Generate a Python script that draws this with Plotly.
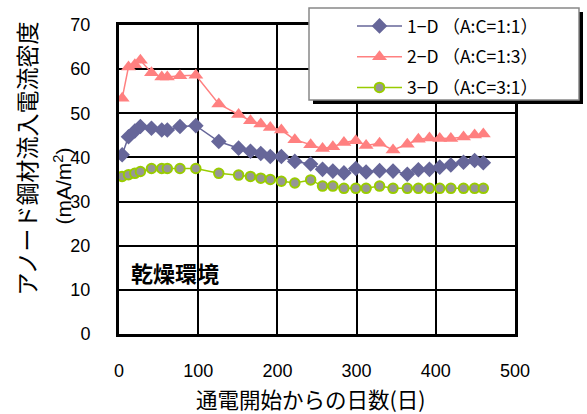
import plotly.graph_objects as go

days = [4, 12, 20, 27, 41, 54, 61, 77, 97, 126, 151, 166, 179, 191, 205, 222,
        242, 257, 270, 284, 299, 312, 329, 346, 364, 378, 392, 405, 419, 435, 449, 460]

s1_name = "1−D （A:C=1:1）"
s1 = [40.6, 44.7, 46.0, 47.0, 46.6, 46.2, 46.2, 47.0, 47.2, 43.6, 42.1, 41.4, 40.9, 40.2, 40.2, 39.1,
      38.5, 37.3, 36.9, 36.5, 37.5, 36.7, 37.0, 36.9, 36.2, 37.2, 37.3, 37.8, 38.3, 38.9, 39.3, 38.8]

s2_name = "2−D （A:C=1:3）"
s2 = [53.4, 60.5, 61.0, 62.0, 59.2, 58.2, 58.2, 58.5, 58.6, 52.1, 49.7, 48.3, 47.6, 46.8, 46.2, 44.0,
      42.9, 42.0, 42.4, 43.4, 43.8, 42.7, 43.2, 41.7, 43.0, 44.1, 44.4, 44.3, 44.3, 44.6, 45.1, 45.3]

s3_name = "3−D （A:C=3:1）"
s3 = [35.7, 36.1, 36.4, 36.8, 37.5, 37.5, 37.5, 37.5, 37.5, 36.4, 36.0, 35.7, 35.3, 35.0, 34.6, 34.2,
      34.9, 33.5, 33.5, 33.0, 33.0, 33.0, 33.5, 33.0, 33.0, 33.0, 33.0, 33.0, 33.0, 33.0, 33.0, 33.0]

x_ticks = [0, 100, 200, 300, 400, 500]
y_ticks = [0, 10, 20, 30, 40, 50, 60, 70]

x_title = "通電開始からの日数(日)"
y_title_1 = "アノード鋼材流入電流密度"
y_title_2 = "(mA/m<sup>2</sup>)"
note = "乾燥環境"

JP = "Noto Sans CJK JP"
NUM = "Liberation Sans"

fig = go.Figure()
fig.add_trace(go.Scatter(x=days, y=s1, name=s1_name, mode="lines+markers", legendgroup="a",
                         line=dict(color="#666699", width=1.5),
                         marker=dict(symbol="diamond", size=12, color="#666699")))
fig.add_trace(go.Scatter(x=days, y=s2, name=s2_name, mode="lines+markers", legendgroup="b",
                         line=dict(color="#FF8080", width=1.5),
                         marker=dict(symbol="triangle-up", size=13, color="#FF8080")))
fig.add_trace(go.Scatter(x=days, y=s3, name=s3_name, mode="lines+markers", legendgroup="c",
                         line=dict(color="#99CC00", width=1.5),
                         marker=dict(symbol="circle", size=9.5, color="#969696",
                                     line=dict(color="#99CC00", width=2))))

W, H = 587, 414
L, R, T, B = 119, 515, 25, 334
pw, ph = R - L, B - T

def px(x):
    return (x - L) / pw

def py(y):
    return (B - y) / ph

shapes = [
    dict(type="rect", xref="paper", yref="paper", x0=px(313), x1=px(583), y0=py(104), y1=py(12),
         fillcolor="black", line=dict(width=0), layer="above"),
    dict(type="rect", xref="paper", yref="paper", x0=px(309), x1=px(579), y0=py(100), y1=py(8),
         fillcolor="white", line=dict(color="#888888", width=1.5), layer="above"),
]

annotations = [
    dict(text=note, xref="paper", yref="paper", x=px(129), y=py(272), xanchor="left", yanchor="middle",
         showarrow=False, font=dict(family=JP, size=22, color="black", weight="bold")),
    dict(text=y_title_1, xref="paper", yref="paper", x=px(25), y=py(158.5), xanchor="center", yanchor="middle",
         textangle=-90, showarrow=False, font=dict(family=JP, size=23, color="black")),
    dict(text=y_title_2, xref="paper", yref="paper", x=px(62), y=py(185.5), xanchor="center", yanchor="middle",
         textangle=-90, showarrow=False, font=dict(family=NUM, size=21, color="black")),
    dict(text=x_title, xref="paper", yref="paper", x=px(311), y=py(398), xanchor="center", yanchor="middle",
         showarrow=False, font=dict(family=JP, size=21.5, color="black")),
]

fig.update_layout(
    width=W, height=H,
    margin=dict(l=L, r=W - R, t=T, b=H - B, autoexpand=False),
    paper_bgcolor="white", plot_bgcolor="white",
    showlegend=True,
    legend=dict(x=px(352), y=py(8), xanchor="left", yanchor="top", bgcolor="rgba(0,0,0,0)",
                font=dict(family=JP, size=17.5, color="black"), itemwidth=45,
                tracegroupgap=5),
    shapes=shapes,
    annotations=annotations,
    xaxis=dict(range=[0, 500], tickvals=x_ticks, ticktext=[str(v) for v in x_ticks],
               showgrid=True, gridcolor="black", gridwidth=1.5,
               showline=True, linecolor="black", linewidth=3, mirror=True,
               ticks="", ticklabelstandoff=18, zeroline=False, automargin=False,
               tickfont=dict(family=NUM, size=18, color="black")),
    yaxis=dict(range=[0, 70], tickvals=y_ticks, ticktext=[str(v) for v in y_ticks],
               showgrid=True, gridcolor="black", gridwidth=1.5,
               showline=True, linecolor="black", linewidth=3, mirror=True,
               ticks="", ticklabelstandoff=22, zeroline=False, automargin=False,
               tickfont=dict(family=NUM, size=18, color="black")),
)

fig.write_html("out.html", config={"displayModeBar": False},
               post_script="document.body.style.margin='0';")
